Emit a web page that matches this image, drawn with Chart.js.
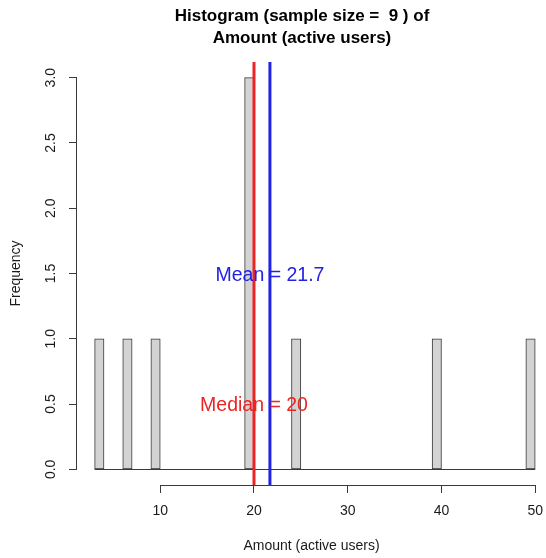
<!DOCTYPE html>
<html>
<head>
<meta charset="utf-8">
<script src="https://cdn.jsdelivr.net/npm/chart.js@4.4.1/dist/chart.umd.min.js"></script>
<style>
  html, body { margin: 0; padding: 0; background: #ffffff; overflow: hidden; }
  #wrap { position: relative; width: 546px; height: 558px; }
</style>
</head>
<body>
<div id="wrap"><canvas id="chart"></canvas></div>
<script>
// ---- data ----
const binEdges = [3,4,5,6,7,8,9,10,11,12,13,14,15,16,17,18,19,20,21,22,23,24,25,26,27,28,29,30,31,32,33,34,35,36,37,38,39,40,41,42,43,44,45,46,47,48,49,50];
const binCounts = [1,0,0,1,0,0,1,0,0,0, 0,0,0,0,0,0,3,0,0,0, 0,1,0,0,0,0,0,0,0,0, 0,0,0,0,0,0,1,0,0,0, 0,0,0,0,0,0,1];
const xTickValues = [10,20,30,40,50];
const yTickValues = [0,0.5,1,1.5,2,2.5,3];
const titleLines = ['Histogram (sample size =  9 ) of', 'Amount (active users)'];
const xAxisTitle = 'Amount (active users)';
const yAxisTitle = 'Frequency';
const medianValue = 20;
const meanValue = 21.7;
const medianLabel = 'Median = 20';
const meanLabel = 'Mean = 21.7';
const medianLabelHeight = 0.5;
const meanLabelHeight = 1.5;
// axis ranges (R extends ranges by 4%)
const xRange = [1.12, 51.15];
const yRange = [-0.12, 3.12];

const FONT = '"Liberation Sans", Arial, Helvetica, sans-serif';
const RED = '#ec2424';
const BLUE = '#2222e6';
const AXIS = '#3a3a3a';

const histData = binCounts.map((c, i) => ({ x: (binEdges[i] + binEdges[i + 1]) / 2, y: c }));

const decor = {
  id: 'decor',
  afterDatasetsDraw(chart) {
    const { ctx, chartArea, scales: { x, y } } = chart;
    ctx.save();
    // histogram base line (zero-count bins)
    ctx.strokeStyle = AXIS;
    ctx.lineWidth = 1;
    const y0 = Math.round(y.getPixelForValue(0)) + 0.5;
    ctx.beginPath();
    ctx.moveTo(x.getPixelForValue(binEdges[0]), y0);
    ctx.lineTo(x.getPixelForValue(binEdges[binEdges.length - 1]), y0);
    ctx.stroke();
    // x axis line (first to last tick)
    const xb = Math.round(chartArea.bottom) + 0.5;
    ctx.beginPath();
    ctx.moveTo(x.getPixelForValue(xTickValues[0]), xb);
    ctx.lineTo(x.getPixelForValue(xTickValues[xTickValues.length - 1]), xb);
    ctx.stroke();
    // y axis line
    const yl = Math.round(chartArea.left) - 0.5;
    ctx.beginPath();
    ctx.moveTo(yl, y.getPixelForValue(yTickValues[0]));
    ctx.lineTo(yl, y.getPixelForValue(yTickValues[yTickValues.length - 1]));
    ctx.stroke();
    // median / mean lines
    ctx.lineWidth = 3;
    ctx.strokeStyle = RED;
    let px = x.getPixelForValue(medianValue);
    ctx.beginPath(); ctx.moveTo(px, chartArea.top); ctx.lineTo(px, chartArea.bottom); ctx.stroke();
    ctx.strokeStyle = BLUE;
    px = x.getPixelForValue(meanValue);
    ctx.beginPath(); ctx.moveTo(px, chartArea.top); ctx.lineTo(px, chartArea.bottom); ctx.stroke();
    // labels
    ctx.font = '19.5px ' + FONT;
    ctx.textAlign = 'center';
    ctx.textBaseline = 'middle';
    ctx.fillStyle = BLUE;
    ctx.fillText(meanLabel, x.getPixelForValue(meanValue), y.getPixelForValue(meanLabelHeight) + 2);
    ctx.fillStyle = RED;
    ctx.fillText(medianLabel, x.getPixelForValue(medianValue), y.getPixelForValue(medianLabelHeight) + 2);
    // title
    ctx.fillStyle = '#000000';
    ctx.font = 'bold 17px ' + FONT;
    ctx.fillText(titleLines[0], 302, 16.5);
    ctx.fillText(titleLines[1], 302, 38);
    ctx.restore();
  }
};

new Chart(document.getElementById('chart'), {
  type: 'bar',
  data: {
    datasets: [{
      data: histData,
      backgroundColor: '#d3d3d3',
      borderColor: '#383838',
      borderWidth: 1,
      barPercentage: 1,
      categoryPercentage: 1,
      borderSkipped: false
    }]
  },
  options: {
    responsive: true,
    maintainAspectRatio: false,
    animation: false,
    events: [],
    layout: { autoPadding: false, padding: { top: 62, right: 0, left: 0, bottom: 0 } },
    plugins: { legend: { display: false }, tooltip: { enabled: false }, title: { display: false } },
    scales: {
      x: {
        type: 'linear',
        offset: false,
        min: xRange[0],
        max: xRange[1],
        afterBuildTicks: s => { s.ticks = xTickValues.map(v => ({ value: v })); },
        afterFit: s => { s.height = 73; s.paddingLeft = 0; s.paddingRight = 0; },
        border: { display: false },
        grid: { display: true, offset: false, drawOnChartArea: false, drawTicks: true, tickLength: 8, color: AXIS, lineWidth: 1 },
        ticks: { autoSkip: false, maxRotation: 0, padding: 9.5, color: '#1a1a1a', font: { family: FONT, size: 14 } },
        title: { display: true, text: xAxisTitle, color: '#1a1a1a', font: { family: FONT, size: 14 }, padding: { top: 0, bottom: 3.6 } }
      },
      y: {
        type: 'linear',
        min: yRange[0],
        max: yRange[1],
        afterBuildTicks: s => { s.ticks = yTickValues.map(v => ({ value: v })); },
        afterFit: s => { s.width = 77; s.paddingTop = 0; s.paddingBottom = 0; },
        border: { display: false },
        grid: { display: true, drawOnChartArea: false, drawTicks: true, tickLength: 8, color: AXIS, lineWidth: 1 },
        ticks: { minRotation: 90, maxRotation: 90, crossAlign: 'center', padding: 8.3, color: '#1a1a1a', font: { family: FONT, size: 14 }, callback: v => Number(v).toFixed(1) },
        title: { display: true, text: yAxisTitle, color: '#1a1a1a', font: { family: FONT, size: 14 }, padding: { top: 7.6, bottom: 0 } }
      }
    }
  },
  plugins: [decor]
});
</script>
</body>
</html>
